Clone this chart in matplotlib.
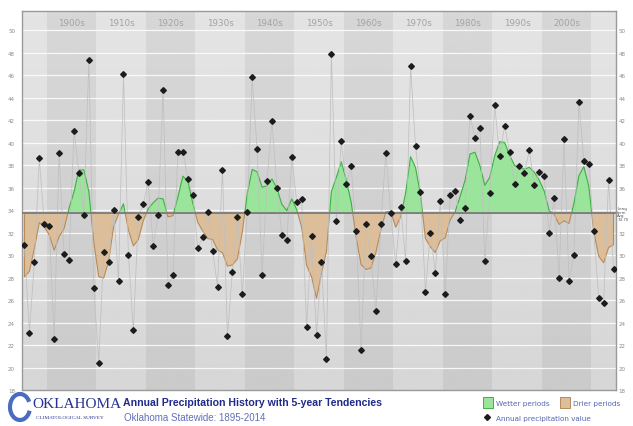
import numpy as np
import matplotlib
matplotlib.use("Agg")
import matplotlib.pyplot as plt
from matplotlib.patches import Rectangle, Arc

# annual statewide precipitation (inches), 1895-2014
years = np.arange(1895, 2015)
precip = [
    30.9, 23.1, 29.4, 38.6, 32.8,                                  # 1895-1899
    32.6, 22.5, 39.1, 30.1, 29.6, 41.0, 37.3, 33.6, 47.3, 27.1,    # 1900s
    20.4, 30.3, 29.4, 34.0, 27.7, 46.1, 30.0, 23.3, 33.4, 34.5,    # 1910s
    36.5, 30.8, 33.6, 44.7, 27.3, 28.2, 39.2, 39.2, 36.8, 35.3,    # 1920s
    30.6, 31.6, 33.8, 30.4, 27.2, 37.6, 22.8, 28.5, 33.4, 26.5,    # 1930s
    33.8, 45.8, 39.4, 28.2, 36.6, 41.9, 36.0, 31.8, 31.3, 38.7,    # 1940s
    34.7, 35.0, 23.6, 31.7, 22.9, 29.4, 20.8, 47.9, 33.0, 40.1,    # 1950s
    36.3, 37.9, 32.1, 21.6, 32.8, 29.9, 25.0, 32.8, 39.1, 33.7,    # 1960s
    29.2, 34.3, 29.5, 46.8, 39.7, 35.6, 26.7, 32.0, 28.4, 34.8,    # 1970s
    26.5, 35.3, 35.7, 33.1, 34.2, 42.4, 40.4, 41.3, 29.5, 35.5,    # 1980s
    43.3, 38.8, 41.5, 39.2, 36.3, 37.9, 37.3, 39.3, 36.2, 37.4,    # 1990s
    37.0, 32.0, 35.1, 28.0, 40.3, 27.7, 30.0, 43.6, 38.4, 38.1,    # 2000s
    32.1, 26.2, 25.7, 36.7, 28.8,                                  # 2010-2014
]
long_term_avg = 33.70
decades = list(range(1900, 2010, 10))
yticks = list(range(18, 52, 2))

precip = np.array(precip)

# 5-year tendency: weighted (1-2-3-2-1) running mean, shorter window at the ends
w = np.array([1, 2, 3, 2, 1], dtype=float)
trend = np.convolve(precip, w, mode="same") / np.convolve(np.ones_like(precip), w, mode="same")

fig = plt.figure(figsize=(6.33, 4.27), dpi=100)
ax = fig.add_axes([22/633, 36/427, 594/633, 379/427])
x0, x1 = 1894.5, 2014.5
y0, y1 = 18, 51.7
ax.set_xlim(x0, x1)
ax.set_ylim(y0, y1)

# background: soft vertical gradient + alternating decade bands
grad = np.linspace(0.84, 0.895, 256).reshape(-1, 1)
ax.imshow(grad, extent=[x0, x1, y0, y1], aspect="auto", cmap="gray",
          vmin=0, vmax=1, origin="lower", zorder=0)
for d in range(1890, 2020, 10):
    if (d // 10) % 2 == 0:
        ax.axvspan(max(d - 0.5, x0), min(d + 9.5, x1), color="black", alpha=0.055, lw=0, zorder=0.2)
for yv in yticks[1:]:
    ax.axhline(yv, color="white", lw=0.9, alpha=0.85, zorder=0.5)

for d in decades:
    ax.text(d + 4.5, 50.7, f"{d}s", ha="center", va="center", fontsize=6.3, color="#a3a3a3", zorder=1)

# wetter / drier fills
ax.fill_between(years, trend, long_term_avg, where=trend >= long_term_avg, interpolate=True,
                facecolor="#9be49b", edgecolor="#3cb043", lw=0.8, zorder=1)
ax.fill_between(years, trend, long_term_avg, where=trend <= long_term_avg, interpolate=True,
                facecolor="#dcbf9a", edgecolor="#b88a5a", lw=0.8, zorder=1)

ax.plot(years, precip, color="#c0c0c0", lw=0.55, zorder=2)
ax.axhline(long_term_avg, color="#7d7d7d", lw=1.3, zorder=3)
ax.plot(years, precip, ls="none", marker="D", ms=2.9, color="#1c1c1c", zorder=4)

ax.set_xticks([])
ax.set_yticks(yticks)
ax.set_yticklabels([str(t) for t in yticks])
ax.tick_params(axis="y", length=0, labelsize=4, labelcolor="#8a8a8a", pad=5)
for s in ax.spines.values():
    s.set_color("#9a9a9a")
    s.set_linewidth(1.0)

ax2 = ax.twinx()
ax2.set_ylim(y0, y1)
rt = [t for t in yticks if t != 34]
ax2.set_yticks(rt)
ax2.set_yticklabels([str(t) for t in rt])
ax2.tick_params(axis="y", length=0, labelsize=4, labelcolor="#8a8a8a", pad=2)
for s in ax2.spines.values():
    s.set_visible(False)
ax2.text(1.002, long_term_avg, "Long\nterm\nAvg\n%.2f" % long_term_avg, transform=ax2.get_yaxis_transform(),
         fontsize=2.9, color="#555555", va="center", ha="left", linespacing=0.85)

# footer: logo + titles
navy = "#25328f"
fig.patches.append(Arc((20/633, 1 - 408/427), 20/633, 26/427, theta1=40, theta2=330,
                       transform=fig.transFigure, color="#4a6cc0", lw=3))
fig.text(32/633, 1 - 405/427, "OKLAHOMA", fontsize=11, family="Liberation Serif", color=navy, va="center")
fig.text(36/633, 1 - 418/427, "CLIMATOLOGICAL SURVEY", fontsize=3.8, family="Liberation Serif",
         color=navy, va="center")
fig.text(123/633, 1 - 403/427, "Annual Precipitation History with 5-year Tendencies", fontsize=7.6,
         fontweight="bold", family="Liberation Sans", color="#1f2a8a", va="center")
fig.text(124/633, 1 - 418/427, "Oklahoma Statewide: 1895-2014", fontsize=7,
         family="Liberation Sans", color="#6070b8", va="center")

# legend
lc = "#5565b0"
fig.patches.append(Rectangle((483/633, 1 - 409/427), 10/633, 11/427, transform=fig.transFigure,
                             facecolor="#9be49b", edgecolor="#3cb043", lw=0.7))
fig.text(496/633, 1 - 404/427, "Wetter periods", fontsize=5.2, color=lc, va="center")
fig.patches.append(Rectangle((560/633, 1 - 409/427), 10/633, 11/427, transform=fig.transFigure,
                             facecolor="#dcbf9a", edgecolor="#b88a5a", lw=0.7))
fig.text(573/633, 1 - 404/427, "Drier periods", fontsize=5.2, color=lc, va="center")
fig.lines.append(plt.Line2D([487/633], [1 - 418/427], marker="D", ms=3.0, color="#1c1c1c",
                            transform=fig.transFigure))
fig.text(496/633, 1 - 419/427, "Annual precipitation value", fontsize=5.2, color=lc, va="center")

fig.savefig("out.png", dpi=100, facecolor="white")
